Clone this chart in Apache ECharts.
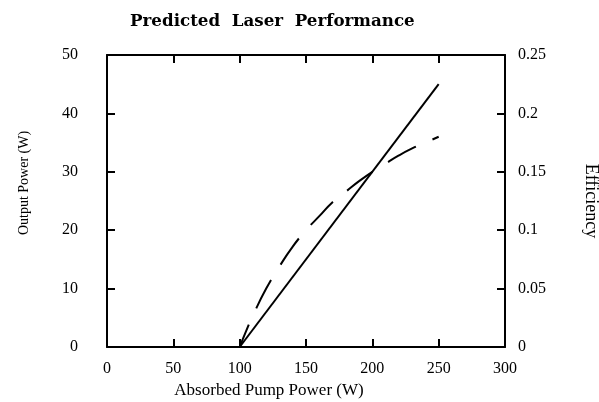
<!DOCTYPE html>
<html><head><meta charset="utf-8">
<script src="https://cdn.jsdelivr.net/npm/echarts@6/dist/echarts.min.js"></script>
<style>html,body{margin:0;padding:0;background:#fff}#c{width:599px;height:402px}</style>
</head><body><div id="c"></div>
<script>
const titleText = 'Predicted  Laser  Performance';
const xName = 'Absorbed Pump Power (W)';
const yLeftName = 'Output Power (W)';
const yRightName = 'Efficiency';
const outputPump = [100, 250];
const outputPower = [0, 45];
const effPump = [100, 105, 110, 120, 130, 140, 150, 160, 170, 180, 190, 200, 210, 220, 230, 240, 250];
const effValues = [0, 0.014, 0.027, 0.05, 0.069, 0.086, 0.1, 0.112, 0.124, 0.133, 0.142, 0.15, 0.157, 0.164, 0.17, 0.175, 0.18];

const F = 'Liberation Serif, Times New Roman, serif';
const chart = echarts.init(document.getElementById('c'), null, {renderer: 'canvas'});
const lineS = {color: '#000', width: 2};
const axLine = {show: true, onZero: false, lineStyle: lineS};
const tick = {show: true, inside: true, length: 8, lineStyle: lineS};
chart.setOption({
  animation: false,
  backgroundColor: '#fff',
  title: {text: titleText, left: 125, top: 8, textStyle: {fontFamily: 'DejaVu Serif', fontSize: 16.7, fontWeight: 'bold', color: '#000'}},
  grid: {left: 107, right: 94, top: 55, bottom: 55, containLabel: false, outerBoundsMode: 'none'},
  xAxis: [
    {type: 'value', min: 0, max: 300, interval: 50, position: 'bottom',
     axisLine: axLine, axisTick: tick,
     axisLabel: {fontFamily: F, fontSize: 16, color: '#000', margin: 14},
     splitLine: {show: false},
     name: xName, nameLocation: 'middle', nameGap: 34,
     nameTextStyle: {fontFamily: F, fontSize: 17, color: '#000', padding: [0, 74, 0, 0]}},
    {type: 'value', min: 0, max: 300, interval: 50, position: 'top',
     axisLine: axLine, axisTick: tick,
     axisLabel: {show: false}, splitLine: {show: false}}
  ],
  yAxis: [
    {type: 'value', min: 0, max: 50, interval: 10, position: 'left',
     axisLine: axLine, axisTick: tick,
     axisLabel: {fontFamily: F, fontSize: 16, color: '#000', margin: 29},
     splitLine: {show: false},
     name: yLeftName, nameLocation: 'middle', nameGap: 76, nameRotate: 90,
     nameTextStyle: {fontFamily: F, fontSize: 14, color: '#000', padding: [0, 0, 0, 36]}},
    {type: 'value', min: 0, max: 0.25, interval: 0.05, position: 'right',
     axisLine: axLine, axisTick: tick,
     axisLabel: {fontFamily: F, fontSize: 16, color: '#000', margin: 13},
     splitLine: {show: false},
     name: yRightName, nameLocation: 'middle', nameGap: 77, nameRotate: -90,
     nameTextStyle: {fontFamily: F, fontSize: 18, color: '#000'}}
  ],
  series: [
    {type: 'line', xAxisIndex: 0, yAxisIndex: 0, data: outputPump.map((x, i) => [x, outputPower[i]]),
     showSymbol: false, lineStyle: {color: '#000', width: 2}},
    {type: 'line', xAxisIndex: 0, yAxisIndex: 1, data: effPump.map((x, i) => [x, effValues[i]]),
     showSymbol: false, smooth: true, lineStyle: {color: '#000', width: 2, type: [32, 18], dashOffset: 8}}
  ]
});
</script></body></html>
